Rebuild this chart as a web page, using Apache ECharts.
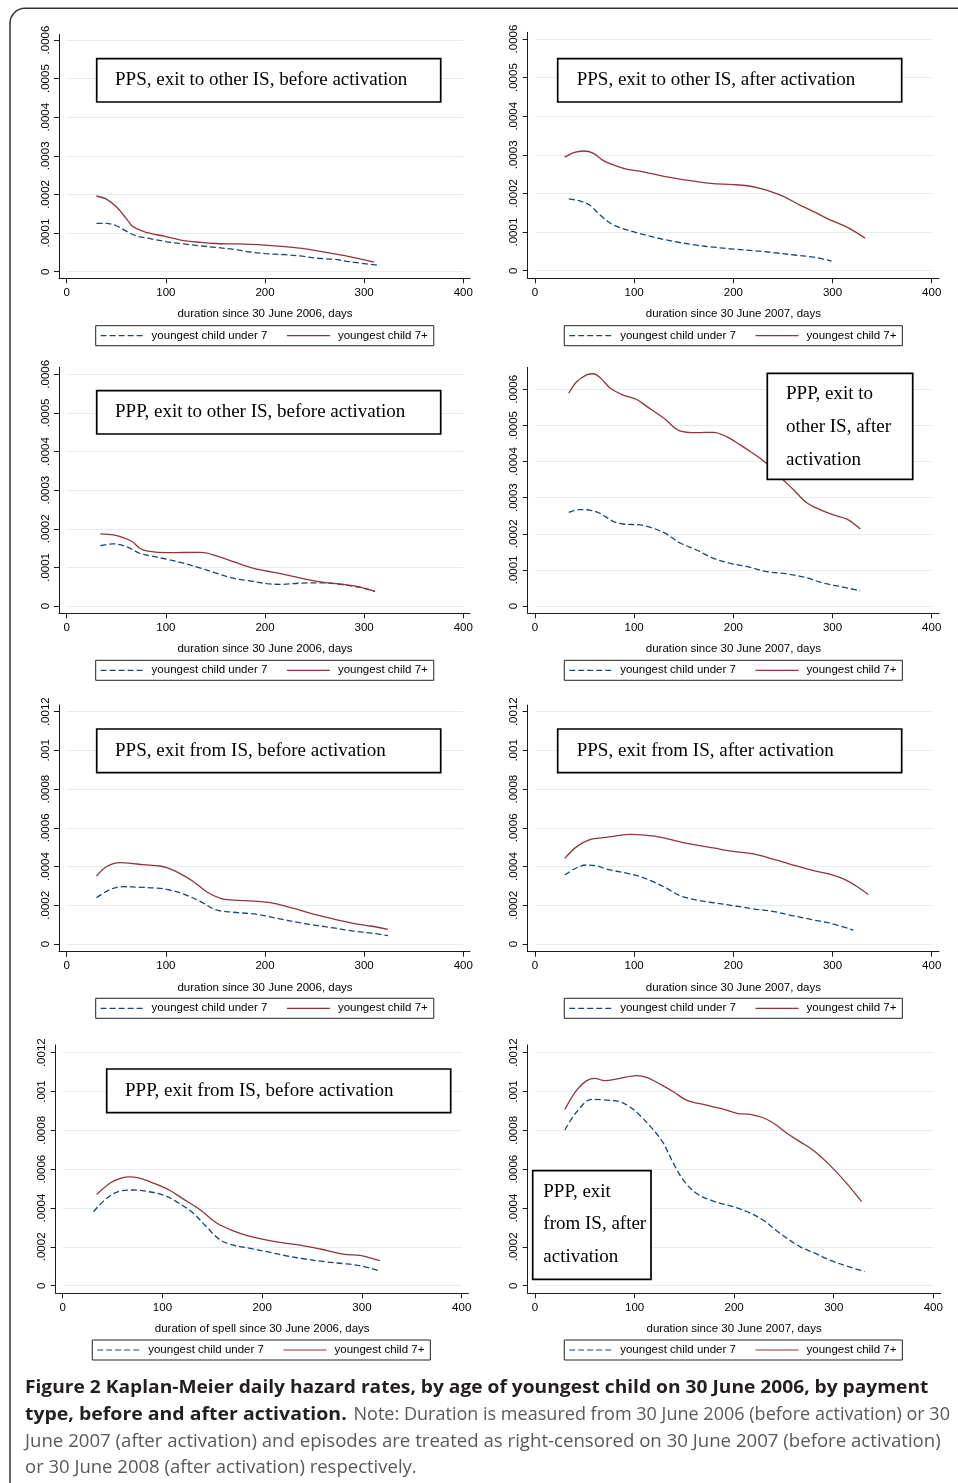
<!DOCTYPE html>
<html>
<head>
<meta charset="utf-8">
<script src="https://cdn.jsdelivr.net/npm/echarts@6/dist/echarts.min.js"></script>
<style>
html,body{margin:0;padding:0;background:#fff;}
#c{width:958px;height:1483px;}
</style>
</head>
<body>
<div id="c"></div>
<script>
// ---------------- DATA ----------------
const seriesNames = ['youngest child under 7', 'youngest child 7+'];
const xTickLabels = ['0', '100', '200', '300', '400'];
const yTickLabelsA = ['0', '.0001', '.0002', '.0003', '.0004', '.0005', '.0006'];
const yTickLabelsB = ['0', '.0002', '.0004', '.0006', '.0008', '.001', '.0012'];

const panelTitles = [
  'PPS, exit to other IS, before activation',
  'PPS, exit to other IS, after activation',
  'PPP, exit to other IS, before activation',
  'PPP, exit to\nother IS, after\nactivation',
  'PPS, exit from IS, before activation',
  'PPS, exit from IS, after activation',
  'PPP, exit from IS, before activation',
  'PPP, exit\nfrom IS, after\nactivation'
];
const xTitles = [
  'duration since 30 June 2006, days',
  'duration since 30 June 2007, days',
  'duration since 30 June 2006, days',
  'duration since 30 June 2007, days',
  'duration since 30 June 2006, days',
  'duration since 30 June 2007, days',
  'duration of spell since 30 June 2006, days',
  'duration since 30 June 2007, days'
];

// Panel 1: PPS, exit to other IS, before activation
const p1_u7_x = [30, 40, 50, 60, 70, 85, 100, 118, 135, 150, 168, 185, 200, 220, 235, 252, 270, 285, 313];
const p1_u7_y = [1.25e-4, 1.25e-4, 1.19e-4, 1.05e-4, 0.93e-4, 0.85e-4, 0.78e-4, 0.72e-4, 0.67e-4, 0.63e-4, 0.58e-4, 0.51e-4, 0.47e-4, 0.44e-4, 0.41e-4, 0.35e-4, 0.32e-4, 0.26e-4, 0.17e-4];
const p1_o7_x = [30, 40, 50, 60, 65, 70, 80, 100, 115, 135, 150, 170, 185, 200, 220, 235, 250, 270, 285, 310];
const p1_o7_y = [1.96e-4, 1.88e-4, 1.68e-4, 1.38e-4, 1.21e-4, 1.12e-4, 1.02e-4, 0.91e-4, 0.82e-4, 0.76e-4, 0.73e-4, 0.72e-4, 0.71e-4, 0.69e-4, 0.65e-4, 0.61e-4, 0.55e-4, 0.46e-4, 0.39e-4, 0.25e-4];

// Panel 2: PPS, exit to other IS, after activation
const p2_u7_x = [34, 45, 55, 65, 76, 86, 99, 113, 130, 146, 163, 180, 200, 220, 240, 264, 281, 299];
const p2_u7_y = [1.86e-4, 1.81e-4, 1.70e-4, 1.46e-4, 1.23e-4, 1.11e-4, 1.01e-4, 0.91e-4, 0.81e-4, 0.73e-4, 0.66e-4, 0.61e-4, 0.56e-4, 0.52e-4, 0.47e-4, 0.40e-4, 0.35e-4, 0.25e-4];
const p2_o7_x = [30, 39, 49, 59, 69, 79, 92, 109, 130, 146, 177, 200, 214, 227, 240, 251, 267, 281, 298, 315, 333];
const p2_o7_y = [2.94e-4, 3.06e-4, 3.10e-4, 3.04e-4, 2.85e-4, 2.74e-4, 2.63e-4, 2.56e-4, 2.44e-4, 2.37e-4, 2.26e-4, 2.23e-4, 2.20e-4, 2.13e-4, 2.03e-4, 1.92e-4, 1.70e-4, 1.53e-4, 1.31e-4, 1.12e-4, 0.84e-4];

// Panel 3: PPP, exit to other IS, before activation
const p3_u7_x = [34, 47, 60, 74, 84, 101, 118, 135, 151, 168, 185, 202, 215, 235, 256, 276, 296, 311];
const p3_u7_y = [1.56e-4, 1.61e-4, 1.54e-4, 1.36e-4, 1.30e-4, 1.21e-4, 1.11e-4, 0.98e-4, 0.85e-4, 0.72e-4, 0.65e-4, 0.58e-4, 0.56e-4, 0.59e-4, 0.60e-4, 0.56e-4, 0.48e-4, 0.38e-4];
const p3_o7_x = [34, 47, 57, 66, 74, 82, 101, 135, 151, 168, 185, 198, 219, 242, 259, 279, 296, 311];
const p3_o7_y = [1.87e-4, 1.84e-4, 1.77e-4, 1.67e-4, 1.49e-4, 1.42e-4, 1.38e-4, 1.39e-4, 1.30e-4, 1.15e-4, 1.00e-4, 0.92e-4, 0.82e-4, 0.69e-4, 0.61e-4, 0.56e-4, 0.49e-4, 0.38e-4];

// Panel 4: PPP, exit to other IS, after activation
const p4_u7_x = [34, 45, 56, 66, 79, 89, 109, 130, 146, 163, 180, 197, 214, 234, 254, 274, 291, 308, 328];
const p4_u7_y = [2.59e-4, 2.67e-4, 2.65e-4, 2.56e-4, 2.34e-4, 2.27e-4, 2.23e-4, 2.03e-4, 1.75e-4, 1.55e-4, 1.32e-4, 1.18e-4, 1.09e-4, 0.95e-4, 0.89e-4, 0.78e-4, 0.63e-4, 0.54e-4, 0.42e-4];
const p4_o7_x = [34, 42, 52, 59, 66, 76, 89, 103, 113, 130, 146, 163, 180, 193, 207, 217, 227, 237, 247, 261, 274, 288, 301, 315, 328];
const p4_o7_y = [5.89e-4, 6.21e-4, 6.40e-4, 6.43e-4, 6.31e-4, 6.03e-4, 5.84e-4, 5.71e-4, 5.52e-4, 5.20e-4, 4.85e-4, 4.80e-4, 4.81e-4, 4.69e-4, 4.46e-4, 4.28e-4, 4.09e-4, 3.86e-4, 3.58e-4, 3.21e-4, 2.86e-4, 2.66e-4, 2.52e-4, 2.40e-4, 2.13e-4];

// Panel 5: PPS, exit from IS, before activation
const p5_u7_x = [30, 44, 57, 74, 91, 101, 118, 135, 151, 168, 192, 212, 235, 252, 269, 289, 309, 324];
const p5_u7_y = [2.39e-4, 2.82e-4, 2.96e-4, 2.93e-4, 2.89e-4, 2.82e-4, 2.58e-4, 2.19e-4, 1.76e-4, 1.64e-4, 1.53e-4, 1.33e-4, 1.10e-4, 0.96e-4, 0.83e-4, 0.67e-4, 0.55e-4, 0.43e-4];
const p5_o7_x = [30, 40, 54, 64, 77, 94, 101, 114, 128, 141, 155, 168, 188, 209, 229, 252, 269, 289, 306, 324];
const p5_o7_y = [3.51e-4, 3.99e-4, 4.20e-4, 4.17e-4, 4.10e-4, 4.03e-4, 3.94e-4, 3.65e-4, 3.22e-4, 2.70e-4, 2.36e-4, 2.27e-4, 2.22e-4, 2.10e-4, 1.84e-4, 1.50e-4, 1.29e-4, 1.07e-4, 0.93e-4, 0.76e-4];

// Panel 6: PPS, exit from IS, after activation
const p6_u7_x = [30, 42, 52, 62, 72, 93, 106, 119, 133, 146, 163, 180, 200, 220, 241, 261, 281, 298, 321];
const p6_u7_y = [3.56e-4, 3.94e-4, 4.08e-4, 4.04e-4, 3.87e-4, 3.65e-4, 3.48e-4, 3.22e-4, 2.87e-4, 2.50e-4, 2.27e-4, 2.13e-4, 1.98e-4, 1.82e-4, 1.67e-4, 1.45e-4, 1.24e-4, 1.07e-4, 0.72e-4];
const p6_o7_x = [30, 42, 56, 69, 82, 96, 113, 126, 146, 163, 180, 200, 220, 241, 257, 281, 298, 311, 325, 336];
const p6_o7_y = [4.42e-4, 5.03e-4, 5.40e-4, 5.49e-4, 5.59e-4, 5.66e-4, 5.61e-4, 5.52e-4, 5.28e-4, 5.11e-4, 4.96e-4, 4.78e-4, 4.65e-4, 4.37e-4, 4.13e-4, 3.79e-4, 3.60e-4, 3.36e-4, 2.96e-4, 2.56e-4];

// Panel 7: PPP, exit from IS, before activation
const p7_u7_x = [31, 44, 58, 71, 84, 101, 114, 131, 144, 158, 171, 188, 205, 225, 245, 265, 285, 298, 318];
const p7_u7_y = [3.81e-4, 4.50e-4, 4.88e-4, 4.93e-4, 4.86e-4, 4.67e-4, 4.33e-4, 3.73e-4, 3.04e-4, 2.35e-4, 2.09e-4, 1.92e-4, 1.75e-4, 1.53e-4, 1.36e-4, 1.22e-4, 1.12e-4, 1.03e-4, 0.76e-4];
const p7_o7_x = [34, 48, 58, 68, 81, 94, 108, 121, 138, 154, 171, 185, 201, 221, 238, 258, 281, 298, 306, 318];
const p7_o7_y = [4.70e-4, 5.30e-4, 5.53e-4, 5.60e-4, 5.48e-4, 5.22e-4, 4.89e-4, 4.46e-4, 3.90e-4, 3.24e-4, 2.82e-4, 2.58e-4, 2.39e-4, 2.21e-4, 2.09e-4, 1.89e-4, 1.63e-4, 1.56e-4, 1.46e-4, 1.29e-4];

// Panel 8: PPP, exit from IS, after activation
const p8_u7_x = [30, 42, 57, 72, 85, 95, 105, 119, 129, 139, 149, 162, 179, 199, 213, 229, 246, 266, 280, 296, 313, 331];
const p8_u7_y = [8.02e-4, 8.96e-4, 9.60e-4, 9.56e-4, 9.48e-4, 9.22e-4, 8.79e-4, 8.02e-4, 7.33e-4, 6.30e-4, 5.44e-4, 4.76e-4, 4.36e-4, 4.07e-4, 3.81e-4, 3.38e-4, 2.70e-4, 2.01e-4, 1.70e-4, 1.32e-4, 1.01e-4, 0.72e-4];
const p8_o7_x = [30, 42, 52, 60, 70, 85, 102, 112, 126, 139, 152, 172, 186, 203, 216, 229, 239, 253, 266, 280, 296, 313, 328];
const p8_o7_y = [9.08e-4, 10.08e-4, 10.56e-4, 10.68e-4, 10.56e-4, 10.68e-4, 10.82e-4, 10.73e-4, 10.37e-4, 9.99e-4, 9.56e-4, 9.30e-4, 9.13e-4, 8.88e-4, 8.82e-4, 8.65e-4, 8.39e-4, 7.85e-4, 7.42e-4, 6.95e-4, 6.21e-4, 5.27e-4, 4.33e-4];

const captionLines = [
  ['Figure 2 Kaplan-Meier daily hazard rates, by age of youngest child on 30 June 2006, by payment', ''],
  ['type, before and after activation.', 'Note: Duration is measured from 30 June 2006 (before activation) or 30'],
  ['', 'June 2007 (after activation) and episodes are treated as right-censored on 30 June 2007 (before activation)'],
  ['', 'or 30 June 2008 (after activation) respectively.']
];

// ---------------- LAYOUT / STYLE ----------------
const panelData = [
  [p1_u7_x, p1_u7_y, p1_o7_x, p1_o7_y],
  [p2_u7_x, p2_u7_y, p2_o7_x, p2_o7_y],
  [p3_u7_x, p3_u7_y, p3_o7_x, p3_o7_y],
  [p4_u7_x, p4_u7_y, p4_o7_x, p4_o7_y],
  [p5_u7_x, p5_u7_y, p5_o7_x, p5_o7_y],
  [p6_u7_x, p6_u7_y, p6_o7_x, p6_o7_y],
  [p7_u7_x, p7_u7_y, p7_o7_x, p7_o7_y],
  [p8_u7_x, p8_u7_y, p8_o7_x, p8_o7_y]
];
// frame = plot region edges [l,t,r,b]; data = pixel box of x 0..400 / y 0..ymax
const layout = [
  {frame:[59,34.3,470,278.3],    data:[66.7,40,463.3,271.7],    yMax:0.0006, yStep:0.0001, yl:yTickLabelsA, leg:[95.7,325.7], box:[96.7,58.7,344,43.3],  tx:115,   ty:[80.3]},
  {frame:[527.7,32.3,939,278.3], data:[535,39,931.7,270.7],     yMax:0.0006, yStep:0.0001, yl:yTickLabelsA, leg:[564.3,325.7], box:[557.7,58.7,344,43.3], tx:576.7, ty:[80.3]},
  {frame:[59,367.3,470,613.3],   data:[66.7,374.3,463.3,606],   yMax:0.0006, yStep:0.0001, yl:yTickLabelsA, leg:[95.7,660.3], box:[96.7,390.7,344,43.3], tx:115,   ty:[412.3]},
  {frame:[527.7,367.3,939,613.3],data:[535,389.3,931.7,606],    yMax:0.0006, yStep:0.0001, yl:yTickLabelsA, leg:[564.3,660.3], box:[767.3,373.3,145.4,106], tx:786, ty:[394.3,427.3,460]},
  {frame:[59,705,470,951.7],     data:[66.7,711.7,463.3,944],   yMax:0.0012, yStep:0.0002, yl:yTickLabelsB, leg:[95.7,998.3], box:[96.7,729,344,43.7],   tx:115,   ty:[750.8]},
  {frame:[527.7,705,939,951.7],  data:[535,711.7,931.7,944],    yMax:0.0012, yStep:0.0002, yl:yTickLabelsB, leg:[564.3,998.3], box:[557.7,729,344,43.7],  tx:576.7, ty:[750.8]},
  {frame:[55.7,1045,468.3,1293.3],data:[62.7,1052.7,461.7,1285.7],yMax:0.0012, yStep:0.0002, yl:yTickLabelsB, leg:[92.3,1340], box:[106.7,1069,344,43.7], tx:125,   ty:[1090.8]},
  {frame:[527.7,1045,940.7,1293.3],data:[535,1052.7,933.3,1285.7],yMax:0.0012, yStep:0.0002, yl:yTickLabelsB, leg:[564.3,1340], box:[532.7,1170.7,118.3,108.6], tx:543.3, ty:[1192.3,1224,1257.3]}
];

const NAVY = '#1a476f', MAROON = '#90353b', AXIS = '#1a1a1a', GRID = '#e4ecef';
const SANS = 'Liberation Sans', SERIF = 'Liberation Serif';

const grids = [], xAxes = [], yAxes = [], series = [], legends = [], elements = [];

layout.forEach((L, i) => {
  const f = L.frame, d = L.data;
  const gi = 2 * i, di = 2 * i + 1;
  grids.push({left: f[0], top: f[1], width: f[2] - f[0], height: f[3] - f[1]});
  grids.push({left: d[0], top: d[1], width: d[2] - d[0], height: d[3] - d[1]});
  const frameAxis = {type: 'value', min: 0, max: 1, silent: true,
    axisLine: {show: true, onZero: false, lineStyle: {color: AXIS, width: 1}},
    axisTick: {show: false}, axisLabel: {show: false}, splitLine: {show: false}};
  xAxes.push(Object.assign({gridIndex: gi}, frameAxis));
  yAxes.push(Object.assign({gridIndex: gi}, frameAxis));
  xAxes.push({
    gridIndex: di, type: 'value', min: 0, max: 400, interval: 100, offset: f[3] - d[3],
    axisLine: {show: false, onZero: false},
    axisTick: {show: true, length: 5, lineStyle: {color: AXIS, width: 1}},
    axisLabel: {margin: 8.5, fontSize: 11.5, fontFamily: SANS, color: '#000',
      formatter: v => xTickLabels[Math.round(v / 100)]},
    splitLine: {show: false},
    name: xTitles[i], nameLocation: 'middle', nameGap: 30,
    nameTextStyle: {fontSize: 11.5, fontFamily: SANS, color: '#000'}
  });
  yAxes.push({
    gridIndex: di, type: 'value', min: 0, max: L.yMax, interval: L.yStep, offset: d[0] - f[0],
    axisLine: {show: false, onZero: false},
    axisTick: {show: true, length: 5, lineStyle: {color: AXIS, width: 1}},
    axisLabel: {rotate: 90, margin: 7.5, fontSize: 11.5, fontFamily: SANS, color: '#000',
      formatter: v => L.yl[Math.round(v / L.yStep)]},
    splitLine: {show: true, lineStyle: {color: GRID, width: 1}}
  });
  const D = panelData[i];
  [[D[0], D[1], NAVY, [6, 3]], [D[2], D[3], MAROON, 'solid']].forEach((s, k) => {
    series.push({
      type: 'line', name: seriesNames[k], xAxisIndex: di, yAxisIndex: di,
      data: s[0].map((x, j) => [x, s[1][j]]),
      symbol: 'none', smooth: 0.35, clip: false, silent: true, z: 3,
      lineStyle: {color: s[2], width: 1.3, type: s[3]},
      itemStyle: {color: s[2]}
    });
  });
  legends.push({
    left: L.leg[0], top: L.leg[1], orient: 'horizontal', data: seriesNames,
    itemWidth: 43, itemHeight: 12, itemGap: 19, padding: [4, 6, 4, 4.3],
    borderColor: '#222', borderWidth: 1, selectedMode: false,
    itemStyle: {opacity: 0, borderWidth: 0},
    lineStyle: {width: 1.2},
    textStyle: {fontSize: 11.5, fontFamily: SANS, color: '#000', padding: [0, 0, 0, 3]}
  });
  const b = L.box;
  elements.push({type: 'rect', z: 100, silent: true,
    shape: {x: b[0], y: b[1], width: b[2], height: b[3]},
    style: {fill: '#fff', stroke: '#000', lineWidth: 1.7}});
  panelTitles[i].split('\n').forEach((line, k) => {
    elements.push({type: 'text', z: 101, silent: true, x: L.tx, y: L.ty[k],
      style: {text: line, font: '19px "' + SERIF + '"', fill: '#000',
        align: 'left', verticalAlign: 'middle', textAlign: 'left', textVerticalAlign: 'middle'}});
  });
});

// outer frame
elements.push({type: 'rect', z: 0, silent: true,
  shape: {x: 10, y: 8.3, width: 1100, height: 1600, r: 15},
  style: {fill: 'none', stroke: '#333', lineWidth: 1.5}});

// caption (condensed via horizontal scale fitted to measured widths)
const CAP_B = 'bold 18.6px "Open Sans"', CAP_R = '18.6px "Open Sans"';
const ctx = document.createElement('canvas').getContext('2d');
function tw(t, font) { ctx.font = font; return ctx.measureText(t).width; }
const capPlace = [
  {y: 1388, b: [25, 928.3], r: null},
  {y: 1414.7, b: [25, 346.7], r: [353.5, 950]},
  {y: 1441.4, b: null, r: [25, 940.7]},
  {y: 1468, b: null, r: [25, 416.7]}
];
captionLines.forEach((parts, i) => {
  const P = capPlace[i];
  if (parts[0]) {
    const s = (P.b[1] - P.b[0]) / tw(parts[0], CAP_B);
    elements.push({type: 'text', z: 101, silent: true, x: P.b[0], y: P.y, scaleX: s,
      style: {text: parts[0], font: CAP_B, fill: '#231f20', align: 'left', verticalAlign: 'middle', textAlign: 'left', textVerticalAlign: 'middle'}});
  }
  if (parts[1]) {
    const s = (P.r[1] - P.r[0]) / tw(parts[1], CAP_R);
    elements.push({type: 'text', z: 101, silent: true, x: P.r[0], y: P.y, scaleX: s,
      style: {text: parts[1], font: CAP_R, fill: '#58595b', align: 'left', verticalAlign: 'middle', textAlign: 'left', textVerticalAlign: 'middle'}});
  }
});

const chart = echarts.init(document.getElementById('c'), null, {renderer: 'canvas', width: 958, height: 1483});
chart.setOption({
  animation: false,
  backgroundColor: '#fff',
  grid: grids,
  xAxis: xAxes,
  yAxis: yAxes,
  legend: legends,
  series: series,
  graphic: {elements: elements}
});
</script>
</body>
</html>
